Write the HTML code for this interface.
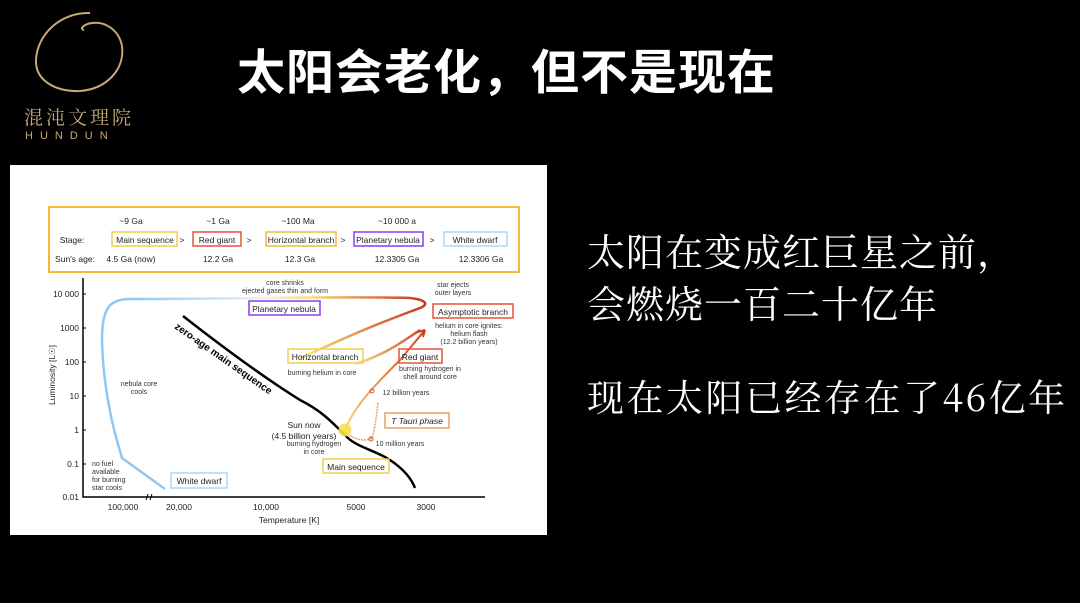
<!DOCTYPE html>
<html><head><meta charset="utf-8"><style>
body{margin:0;width:1080px;height:603px;background:#000;overflow:hidden;position:relative;font-family:"Liberation Sans","Noto Sans CJK SC",sans-serif}
.t{position:absolute;color:#fff}
</style></head><body>
<svg width="1080" height="603" style="position:absolute;left:0;top:0" font-family="Liberation Sans, sans-serif">
<defs>
<linearGradient id="g1" x1="0" x2="1"><stop offset="0" stop-color="#8cc8f5"/><stop offset="0.45" stop-color="#e8f2fb"/><stop offset="0.6" stop-color="#f7e27a"/><stop offset="1" stop-color="#c8321e"/></linearGradient>
<linearGradient id="g2" x1="0" x2="1"><stop offset="0" stop-color="#f8e48a"/><stop offset="1" stop-color="#d0452a"/></linearGradient>
<linearGradient id="g3" x1="0" y1="1" x2="1" y2="0"><stop offset="0" stop-color="#f7dc6a"/><stop offset="1" stop-color="#d03a22"/></linearGradient>
</defs>
<path d="M90 13 C60 12 37 35 36 60 C35 80 55 92 80 91 C106 89 125 70 122 46 C119 30 105 21 92 23 C84 24 79 29 84 30" fill="none" stroke="#c8a878" stroke-width="2"/>
<text x="24" y="124" fill="#c8a878" font-size="19" font-family="Noto Serif CJK SC, serif" letter-spacing="3">混沌文理院</text>
<text x="25" y="139" fill="#c8a878" font-size="11" letter-spacing="7">HUNDUN</text>
<rect x="10" y="165" width="537" height="370" fill="#fff"/>
<rect x="49" y="207" width="470" height="65" fill="none" stroke="#f2b93b" stroke-width="2"/>
<g font-size="8.5" fill="#222" text-anchor="middle">
<text x="131" y="224">~9 Ga</text><text x="218" y="224">~1 Ga</text><text x="298" y="224">~100 Ma</text><text x="397" y="224">~10 000 a</text>
<text x="72" y="243">Stage:</text><text x="75" y="262">Sun's age:</text>
<text x="131" y="262">4.5 Ga (now)</text><text x="218" y="262">12.2 Ga</text><text x="300" y="262">12.3 Ga</text><text x="397" y="262">12.3305 Ga</text><text x="481" y="262">12.3306 Ga</text>
<text x="182" y="243">&gt;</text><text x="249" y="243">&gt;</text><text x="343" y="243">&gt;</text><text x="432" y="243">&gt;</text>
</g>
<g font-size="8.5" fill="#222" text-anchor="middle" stroke-width="1.5">
<rect x="112" y="232" width="65" height="14" fill="none" stroke="#f2cf4a"/><text x="145" y="243">Main sequence</text>
<rect x="193" y="232" width="48" height="14" fill="none" stroke="#e5533a"/><text x="217" y="243">Red giant</text>
<rect x="266" y="232" width="70" height="14" fill="none" stroke="#f2b93b"/><text x="301" y="243">Horizontal branch</text>
<rect x="354" y="232" width="69" height="14" fill="none" stroke="#8a3cf0"/><text x="388" y="243">Planetary nebula</text>
<rect x="444" y="232" width="63" height="14" fill="none" stroke="#a8d8f5"/><text x="475" y="243">White dwarf</text>
</g>
<path d="M83 278 V497 H485" fill="none" stroke="#000" stroke-width="1.5"/>
<g stroke="#000"><path d="M83 294h3M83 328h3M83 362h3M83 396h3M83 430h3M83 464h3"/></g>
<path d="M148 494 l-2 6 M152 494 l-2 6" stroke="#000"/>
<g font-size="8.5" fill="#222" text-anchor="end">
<text x="79" y="297">10 000</text><text x="79" y="331">1000</text><text x="79" y="365">100</text><text x="79" y="399">10</text><text x="79" y="433">1</text><text x="79" y="467">0.1</text><text x="79" y="500">0.01</text>
</g>
<g font-size="8.5" fill="#222" text-anchor="middle">
<text x="123" y="510">100,000</text><text x="179" y="510">20,000</text><text x="266" y="510">10,000</text><text x="356" y="510">5000</text><text x="426" y="510">3000</text>
<text x="289" y="523">Temperature [K]</text>
<text transform="translate(55,375) rotate(-90)">Luminosity [L☉]</text>
</g>
<path d="M165 489 L122 458 C110 420 103 380 102 340 C102 310 108 299 130 299" fill="none" stroke="#8cc8f5" stroke-width="2.5"/>
<path d="M130 299 C250 299 330 296 410 298 C428 300 428 305 420 308 C360 330 330 345 300 358" fill="none" stroke="url(#g1)" stroke-width="2.5"/>
<path d="M355 364 C385 355 405 340 420 330" fill="none" stroke="url(#g2)" stroke-width="2.5"/>
<path d="M345 430 C355 405 375 385 400 360 L425 330" fill="none" stroke="url(#g3)" stroke-width="2"/>
<path d="M425 330 l-7 2 m7 -2 l-2 7" stroke="#d03a22" stroke-width="2" fill="none"/>
<path d="M183 316 C220 345 260 375 300 400 C320 410 330 420 345 435 C355 447 375 450 390 460 C405 470 412 480 415 488" fill="none" stroke="#000" stroke-width="2.5"/>
<path d="M345 432 C355 440 365 442 372 438 C376 425 377 410 378 402" fill="none" stroke="#e8a05a" stroke-width="1.5" stroke-dasharray="2 1"/>
<circle cx="345" cy="430" r="6.5" fill="#f7e04a" opacity="0.9"/>
<circle cx="372" cy="391" r="2" fill="none" stroke="#e04a30"/>
<circle cx="371" cy="439" r="2" fill="none" stroke="#e04a30"/>
<text transform="translate(174,328) rotate(35)" font-size="10" font-weight="bold" fill="#000">zero-age main sequence</text>
<g font-size="7" fill="#333" text-anchor="middle">
<text x="285" y="285">core shrinks</text><text x="285" y="293">ejected gases thin and form</text>
<text x="453" y="287">star ejects</text><text x="453" y="295">outer layers</text>
<text x="469" y="328">helium in core ignites:</text><text x="469" y="336">helium flash</text><text x="469" y="344">(12.2 billion years)</text>
<text x="322" y="375">burning helium in core</text>
<text x="430" y="371">burning hydrogen in</text><text x="430" y="379">shell around core</text>
<text x="139" y="386">nebula core</text><text x="139" y="394">cools</text>
<text x="406" y="395">12 billion years</text>
<text x="400" y="446">10 million years</text>
<text x="314" y="446">burning hydrogen</text><text x="314" y="454">in core</text>
<text x="92" y="466" text-anchor="start">no fuel</text><text x="92" y="474" text-anchor="start">available</text><text x="92" y="482" text-anchor="start">for burning</text><text x="92" y="490" text-anchor="start">star cools</text>
</g>
<g font-size="8.5" fill="#222" text-anchor="middle">
<text x="304" y="428">Sun now</text><text x="304" y="439">(4.5 billion years)</text>
</g>
<g font-size="8.5" fill="#222" text-anchor="middle" stroke-width="1.5">
<rect x="249" y="301" width="71" height="14" fill="none" stroke="#8a3cf0"/><text x="284" y="312">Planetary nebula</text>
<rect x="433" y="304" width="80" height="14" fill="none" stroke="#e5533a"/><text x="473" y="315">Asymptotic branch</text>
<rect x="288" y="349" width="75" height="14" fill="none" stroke="#f2cf4a"/><text x="325" y="360">Horizontal branch</text>
<rect x="399" y="349" width="43" height="14" fill="none" stroke="#e5533a"/><text x="420" y="360">Red giant</text>
<rect x="385" y="413" width="64" height="15" fill="none" stroke="#e8a060"/><text x="417" y="424" font-style="italic">T Tauri phase</text>
<rect x="323" y="459" width="66" height="14" fill="none" stroke="#f2cf4a"/><text x="356" y="470">Main sequence</text>
<rect x="171" y="473" width="56" height="15" fill="none" stroke="#a8d8f5"/><text x="199" y="484">White dwarf</text>
</g>
</svg>
<div class="t" style="left:237px;top:33px;font-size:48px;font-weight:bold;letter-spacing:1px;white-space:nowrap">太阳会老化，但不是现在</div>
<div class="t" style="left:587px;top:224px;font-size:38px;line-height:52px;letter-spacing:1px;white-space:nowrap;font-family:'Noto Serif CJK SC',serif">太阳在变成红巨星之前，<br>会燃烧一百二十亿年</div>
<div class="t" style="left:587px;top:369px;font-size:37px;line-height:52px;letter-spacing:2.5px;white-space:nowrap;font-family:'Noto Serif CJK SC',serif">现在太阳已经存在了46亿年</div>
</body></html>
